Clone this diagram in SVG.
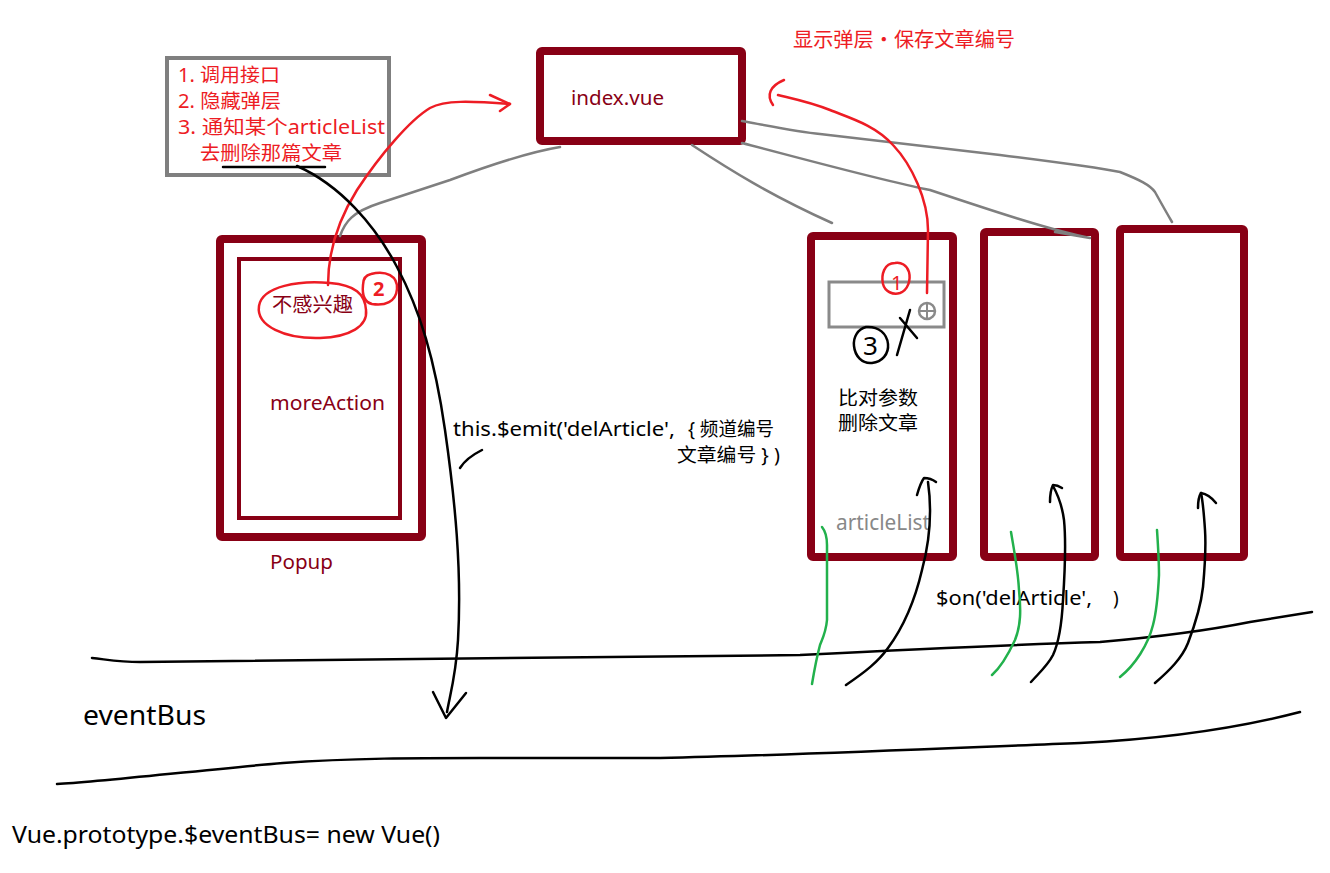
<svg xmlns="http://www.w3.org/2000/svg" width="1330" height="873" viewBox="0 0 1330 873">
<style>
text{font-family:"Noto Sans","Noto Sans CJK SC",sans-serif}
.dr{fill:none;stroke:#880015;stroke-width:8;stroke-linejoin:round}
.gr{fill:none;stroke:#7f7f7f;stroke-width:2.5;stroke-linecap:round;stroke-linejoin:round}
.rd{fill:none;stroke:#ed1c24;stroke-width:2.5;stroke-linecap:round;stroke-linejoin:round}
.bk{fill:none;stroke:#000;stroke-width:2.5;stroke-linecap:round;stroke-linejoin:round}
.gn{fill:none;stroke:#22b14c;stroke-width:2.5;stroke-linecap:round;stroke-linejoin:round}
.tr{fill:#ed1c24;font-size:19px}
.tdr{fill:#880015;font-size:20px}
.tb{fill:#000;font-size:19px}
</style>
<rect width="1330" height="873" fill="#fff"/>

<g id="note">
<rect x="167" y="58" width="222" height="117" fill="none" stroke="#7f7f7f" stroke-width="4"/>
<text class="tr" x="178" y="82" textLength="102" lengthAdjust="spacingAndGlyphs">1. 调用接口</text>
<text class="tr" x="178" y="108" textLength="103" lengthAdjust="spacingAndGlyphs">2. 隐藏弹层</text>
<text class="tr" x="178" y="134" textLength="207" lengthAdjust="spacingAndGlyphs">3. 通知某个articleList</text>
<text class="tr" x="200" y="160" textLength="142" lengthAdjust="spacingAndGlyphs">去删除那篇文章</text>
<path class="bk" d="M223,167 L325,167"/>
</g>

<g id="caption-top">
<text fill="#ed1c24" font-size="20" x="793" y="47" textLength="222" lengthAdjust="spacingAndGlyphs">显示弹层・保存文章编号</text>
</g>

<g id="index">
<rect class="dr" x="540" y="51" width="202" height="90" rx="2"/>
<text class="tdr" x="571" y="105" textLength="93" lengthAdjust="spacingAndGlyphs">index.vue</text>
</g>

<g id="popup">
<rect class="dr" x="220" y="239" width="202" height="298" rx="2"/>
<rect x="239" y="259" width="161" height="259" fill="none" stroke="#880015" stroke-width="4"/>
<text class="tdr" x="272" y="312" font-size="19" textLength="81" lengthAdjust="spacingAndGlyphs">不感兴趣</text>
<path class="rd" d="M330,283 C300,280 262,286 259,306 C256,326 285,339 320,338 C350,337 368,326 366,310 C365,294 355,285 330,283 Z"/>
<path class="rd" d="M371,274 C386,270 398,276 397,289 C396,302 385,306 372,304 C364,302 362,295 363,285 C363,278 366,275 371,274 Z"/>
<text fill="#ed1c24" font-size="20" font-weight="bold" x="373" y="296">2</text>
<text class="tdr" x="270" y="410" textLength="115" lengthAdjust="spacingAndGlyphs">moreAction</text>
<text class="tdr" x="270" y="569" textLength="63" lengthAdjust="spacingAndGlyphs">Popup</text>
</g>

<g id="articleList1">
<rect class="dr" x="811" y="236" width="142" height="321" rx="2"/>
<rect x="829" y="282" width="115" height="45" fill="none" stroke="#8a8a8a" stroke-width="3"/>
<path class="rd" d="M895,263 C884,263 881,275 883,284 C885,292 893,295 900,293 C908,290 911,280 909,272 C907,265 901,262 895,263 Z"/>
<text fill="#ed1c24" font-size="20" x="891" y="290">1</text>
<circle cx="927" cy="311" r="8" fill="none" stroke="#8a8a8a" stroke-width="2.5"/>
<path d="M919,311 L935,311 M927,303 L927,319" stroke="#8a8a8a" stroke-width="2"/>
<path class="bk" d="M866,327 C858,329 853,337 854,346 C855,356 862,364 872,363 C882,362 889,354 888,344 C887,334 879,326 866,327 Z"/>
<text fill="#000" font-size="26" x="863" y="355">3</text>
<path class="bk" d="M900,318 L917,338 M910,310 L897,355"/>
<text class="tb" x="838" y="405" font-size="20" textLength="80" lengthAdjust="spacingAndGlyphs">比对参数</text>
<text class="tb" x="838" y="430" font-size="20" textLength="80" lengthAdjust="spacingAndGlyphs">删除文章</text>
<text fill="#888" font-size="21" x="836" y="530" textLength="94" lengthAdjust="spacingAndGlyphs">articleList</text>
</g>

<g id="articleList2">
<rect class="dr" x="984" y="232" width="111" height="325" rx="2"/>
</g>

<g id="articleList3">
<rect class="dr" x="1120" y="229" width="124" height="328" rx="2"/>
</g>

<g id="eventBus">
<path class="bk" d="M92,658 C110,660 120,662 140,662 L800,655 C900,650 1000,645 1100,642 C1180,635 1220,628 1250,622 C1280,617 1300,614 1312,612"/>
<path class="bk" d="M57,784 C100,782 200,770 283,763 C350,758 420,758 480,758 L660,758 C800,755 950,748 1080,743 C1180,738 1250,725 1300,712"/>
<text fill="#000" font-size="27" x="83" y="725" textLength="123" lengthAdjust="spacingAndGlyphs">eventBus</text>
<text fill="#000" font-size="23" x="12" y="843" textLength="428" lengthAdjust="spacingAndGlyphs">Vue.prototype.$eventBus= new Vue()</text>
</g>

<g id="connectors">
<path class="gr" d="M340,236 C345,222 352,212 380,203 L450,180 C490,165 530,152 560,147"/>
<path class="gr" d="M692,145 C730,170 770,195 832,223"/>
<path class="gr" d="M742,143 C800,158 880,180 930,190 C990,210 1050,230 1090,238 M1055,232 L1090,238"/>
<path class="gr" d="M742,121 C780,128 800,132 820,134 L1000,155 C1080,165 1110,170 1120,172 C1140,180 1150,185 1155,192 C1165,210 1172,222 1172,222"/>
<path class="rd" d="M328,285 C328,255 335,225 357,190 C380,155 410,120 430,108 C445,100 470,101 510,104"/>
<path class="rd" d="M490,95 L510,104 L500,111"/>
<path class="rd" d="M927,293 L928,230 C928,200 912,165 893,145 C875,125 850,118 830,110 C810,102 790,98 778,95"/>
<path class="rd" d="M784,80 C770,86 766,95 773,105"/>
<path class="bk" d="M297,166 C340,185 375,225 397,267 C420,310 435,360 445,430 C455,500 462,570 458,640 C456,675 450,695 447,712"/>
<path class="bk" d="M433,692 L446,718 L466,693"/>
<path class="bk" d="M482,450 C472,455 465,460 460,468"/>
<text class="tb" x="453" y="436" textLength="222" lengthAdjust="spacingAndGlyphs">this.$emit('delArticle',</text>
<text class="tb" x="688" y="436" textLength="86" lengthAdjust="spacingAndGlyphs">{ 频道编号</text>
<text class="tb" x="677" y="462" textLength="103" lengthAdjust="spacingAndGlyphs">文章编号 } )</text>
<text class="tb" x="936" y="605" textLength="156" lengthAdjust="spacingAndGlyphs">$on('delArticle',</text>
<text class="tb" x="1113" y="605">)</text>
<path class="gn" d="M822,527 C826,532 827,537 827,545 L827,620 C826,632 822,640 820,645 C816,660 814,672 812,684"/>
<path class="bk" d="M846,685 C865,672 878,662 888,648 C905,625 915,600 922,570 C930,540 932,510 928,482"/>
<path class="bk" d="M917,495 C919,488 921,482 924,478 C928,478 932,479 936,482"/>
<path class="gn" d="M1011,532 C1014,550 1018,570 1019,590 C1021,610 1021,625 1015,640 C1008,655 1000,668 992,675"/>
<path class="bk" d="M1031,682 C1040,672 1048,665 1053,655 C1060,640 1062,620 1063,600 C1065,570 1066,540 1064,520 C1062,505 1058,495 1053,486"/>
<path class="bk" d="M1050,502 C1050,494 1051,489 1053,485 C1056,485 1059,486 1062,488"/>
<path class="gn" d="M1157,530 C1158,545 1159,560 1159,575 C1158,595 1157,610 1153,625 C1148,645 1135,665 1120,677"/>
<path class="bk" d="M1155,683 C1170,670 1182,658 1188,643 C1196,622 1201,605 1203,587 C1205,565 1206,545 1205,530 C1204,515 1203,502 1201,493"/>
<path class="bk" d="M1198,508 C1198,500 1199,496 1201,493 C1207,494 1212,498 1216,503"/>
</g>
</svg>
